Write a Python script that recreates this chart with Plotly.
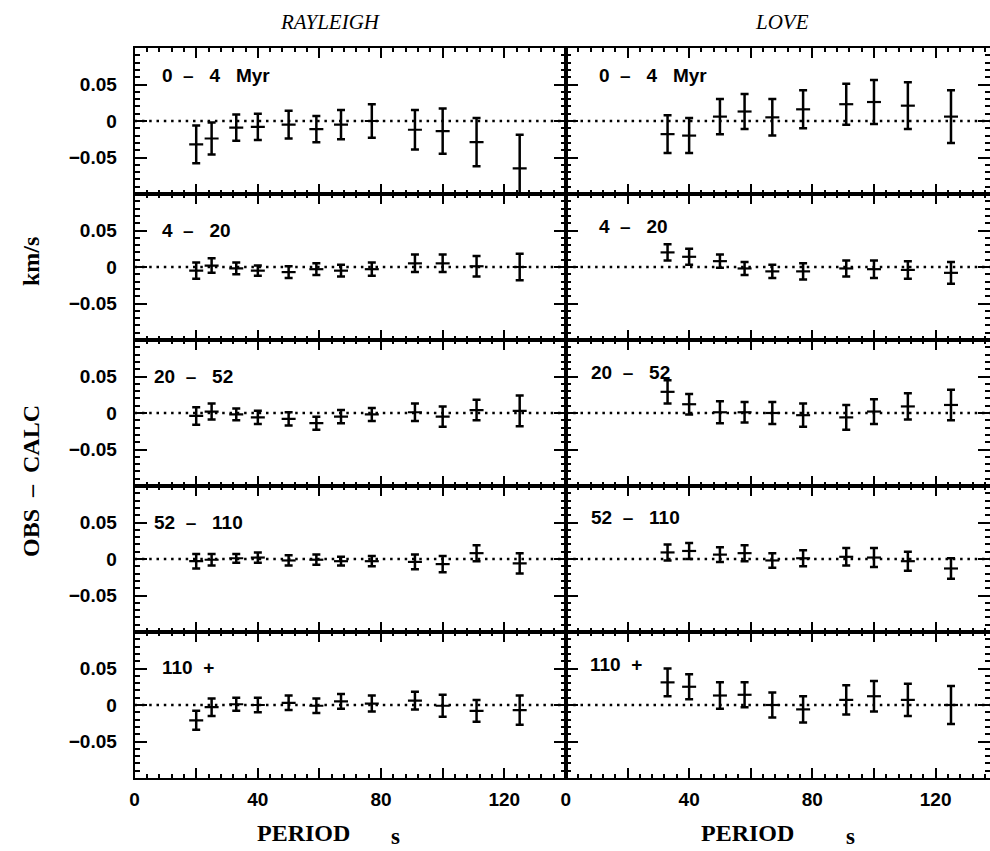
import plotly.graph_objects as go

W, H = 990, 851

# ---------------------------------------------------------------- data
NB = "\u00a0"
bin_labels = [f"0{NB*2}–{NB*3}4{NB*3}Myr", f"4{NB*2}–{NB*3}20",
              f"20{NB*2}–{NB*3}52", f"52{NB*2}–{NB*3}110", f"110{NB*2}+"]

ray_period = [20, 25, 33, 40, 50, 59, 67, 77, 91, 100, 111, 125]
love_period = [33, 40, 50, 58, 67, 77, 91, 100, 111, 125]

# Rayleigh residuals (km/s) and one-sigma errors per seafloor age bin
ray_0_4 = [-0.032, -0.024, -0.009, -0.008, -0.005, -0.011, -0.005, 0.000, -0.012, -0.014, -0.029, -0.065]
ray_0_4_err = [0.026, 0.022, 0.018, 0.018, 0.019, 0.018, 0.020, 0.023, 0.027, 0.031, 0.033, 0.046]
ray_4_20 = [-0.005, 0.002, -0.002, -0.005, -0.007, -0.003, -0.005, -0.003, 0.005, 0.005, 0.001, 0.000]
ray_4_20_err = [0.011, 0.010, 0.008, 0.007, 0.008, 0.008, 0.008, 0.009, 0.012, 0.012, 0.014, 0.018]
ray_20_52 = [-0.004, 0.002, -0.002, -0.006, -0.008, -0.014, -0.005, -0.002, 0.001, -0.005, 0.004, 0.003]
ray_20_52_err = [0.012, 0.011, 0.008, 0.009, 0.009, 0.009, 0.009, 0.009, 0.012, 0.014, 0.014, 0.021]
ray_52_110 = [-0.003, -0.001, 0.001, 0.002, -0.002, -0.001, -0.003, -0.003, -0.004, -0.007, 0.008, -0.006]
ray_52_110_err = [0.010, 0.008, 0.006, 0.007, 0.007, 0.007, 0.006, 0.007, 0.010, 0.011, 0.011, 0.014]
ray_110 = [-0.021, -0.003, 0.001, 0.000, 0.003, -0.001, 0.005, 0.002, 0.006, -0.001, -0.008, -0.007]
ray_110_err = [0.013, 0.012, 0.009, 0.010, 0.010, 0.010, 0.010, 0.011, 0.012, 0.015, 0.015, 0.020]

# Love residuals (km/s) and one-sigma errors per seafloor age bin
love_0_4 = [-0.018, -0.020, 0.006, 0.013, 0.005, 0.016, 0.023, 0.026, 0.021, 0.006]
love_0_4_err = [0.026, 0.024, 0.024, 0.024, 0.025, 0.026, 0.028, 0.030, 0.032, 0.036]
love_4_20 = [0.020, 0.014, 0.008, -0.002, -0.006, -0.006, -0.002, -0.003, -0.004, -0.008]
love_4_20_err = [0.011, 0.011, 0.009, 0.009, 0.009, 0.011, 0.011, 0.012, 0.012, 0.015]
love_20_52 = [0.029, 0.012, 0.001, 0.001, 0.000, -0.003, -0.006, 0.002, 0.009, 0.011]
love_20_52_err = [0.016, 0.014, 0.015, 0.014, 0.015, 0.016, 0.017, 0.017, 0.018, 0.021]
love_52_110 = [0.009, 0.011, 0.006, 0.008, -0.002, 0.001, 0.003, 0.002, -0.003, -0.013]
love_52_110_err = [0.011, 0.011, 0.010, 0.011, 0.010, 0.011, 0.012, 0.013, 0.013, 0.014]
love_110 = [0.031, 0.025, 0.013, 0.014, 0.000, -0.006, 0.007, 0.012, 0.007, 0.000]
love_110_err = [0.019, 0.017, 0.018, 0.017, 0.017, 0.018, 0.020, 0.021, 0.022, 0.026]

# hide the labels of the in-between major ticks
x_label_alias = {"20": " ", "60": " ", "100": " ", "140": " "}
y_label_alias = {"0.1": " ", "\u22120.1": " ", "-0.1": " "}

ray_rows = [(ray_0_4, ray_0_4_err), (ray_4_20, ray_4_20_err), (ray_20_52, ray_20_52_err),
            (ray_52_110, ray_52_110_err), (ray_110, ray_110_err)]
love_rows = [(love_0_4, love_0_4_err), (love_4_20, love_4_20_err), (love_20_52, love_20_52_err),
             (love_52_110, love_52_110_err), (love_110, love_110_err)]

# ---------------------------------------------------------------- layout geometry (pixels)
left_x0, mid_x, right_x1 = 134.6, 565.9, 990.0
px_per_s = (mid_x - left_x0) / 140.0
right_xmax = (right_x1 - mid_x) / px_per_s
top_y, row_h = 48.0, 146.0


def px_x(p):
    return p / W


def px_y(p):
    return 1 - p / H


# label placement inside each panel: (x in s, y in km/s) for left and right column
label_pos_left = [(8.2, 0.063), (8.2, 0.050), (5.6, 0.050), (5.6, 0.050), (8.2, 0.051)]
label_pos_right = [(10.1, 0.063), (10.1, 0.056), (7.5, 0.056), (7.5, 0.057), (7.2, 0.056)]

axis_common = dict(showline=True, linecolor="black", linewidth=2, mirror="allticks",
                   ticks="inside", tickwidth=2.2, tickcolor="black", automargin=False,
                   showgrid=False, zeroline=False, fixedrange=True,
                   tickfont=dict(family="Liberation Sans", size=19, color="black", weight="bold"))

fig = go.Figure()
annotations = []
layout_axes = {}

for row in range(5):
    y_top = top_y + row * row_h
    y_dom = [px_y(y_top + row_h), px_y(y_top)]
    for col in range(2):
        n = row * 2 + col + 1
        xs = ray_period if col == 0 else love_period
        vals, errs = (ray_rows if col == 0 else love_rows)[row]
        xmax = 140.0 if col == 0 else right_xmax
        x_dom = [px_x(left_x0), px_x(mid_x)] if col == 0 else [px_x(mid_x), 1.0]
        xname = "x" if n == 1 else f"x{n}"
        yname = "y" if n == 1 else f"y{n}"

        # dotted zero reference line
        fig.add_trace(go.Scatter(x=[0, xmax], y=[0, 0], mode="lines", xaxis=xname, yaxis=yname,
                                 line=dict(color="black", width=2.5, dash="2.5px,4.8px"),
                                 hoverinfo="skip", showlegend=False))
        # residuals with error bars
        fig.add_trace(go.Scatter(x=xs, y=vals, mode="markers", xaxis=xname, yaxis=yname,
                                 marker=dict(symbol="line-ew", size=10, color="black",
                                             line=dict(color="black", width=2.2)),
                                 error_y=dict(type="data", array=errs, visible=True,
                                              color="black", thickness=2.5, width=4),
                                 showlegend=False))

        layout_axes[f"xaxis{n}"] = dict(
            axis_common, domain=x_dom, range=[0, xmax], anchor=yname,
            tickmode="linear", tick0=0, dtick=20, ticklen=10, labelalias=x_label_alias,
            showticklabels=(row == 4), ticklabelstandoff=3,
            minor=dict(tickmode="linear", tick0=0, dtick=4, ticks="inside", ticklen=4,
                       tickwidth=1.8, tickcolor="black", showgrid=False))
        layout_axes[f"yaxis{n}"] = dict(
            axis_common, domain=y_dom, range=[-0.1, 0.1], anchor=xname,
            tickmode="linear", tick0=0, dtick=0.05, ticklen=12, labelalias=y_label_alias,
            showticklabels=(col == 0), ticklabelstandoff=12,
            minor=dict(tickmode="linear", tick0=0, dtick=0.01, ticks="inside", ticklen=5,
                       tickwidth=1.8, tickcolor="black", showgrid=False))

        lx, ly = (label_pos_left if col == 0 else label_pos_right)[row]
        annotations.append(dict(text=bin_labels[row], x=lx, y=ly, xref=xname, yref=yname,
                                xanchor="left", yanchor="middle", showarrow=False,
                                font=dict(family="Liberation Sans", size=19, color="black",
                                          weight="bold")))

serif = "Liberation Serif"


def paper_text(text, x, y, size, bold=False, angle=0):
    annotations.append(dict(text=text, x=px_x(x), y=px_y(y), xref="paper", yref="paper",
                            xanchor="center", yanchor="middle", textangle=angle,
                            showarrow=False,
                            font=dict(family=serif, size=size, color="black",
                                      weight="bold" if bold else "normal")))


# column titles
paper_text("<i>RAYLEIGH</i>", 330, 22, 21)
paper_text("<i>LOVE</i>", 782, 22, 21)
# x-axis titles
for cx, sx in [(303, 395), (747, 850)]:
    paper_text("PERIOD", cx, 833, 24, bold=True)
    paper_text("s", sx, 836, 23, bold=True)
# y-axis title
paper_text(f"OBS{NB*2}–{NB*2}CALC", 31, 481, 24, bold=True, angle=-90)
paper_text("km/s", 31, 262, 24, bold=True, angle=-90)

fig.update_layout(width=W, height=H,
                  margin=dict(l=0, r=0, t=0, b=0, pad=0, autoexpand=False),
                  paper_bgcolor="white", plot_bgcolor="white",
                  annotations=annotations, showlegend=False, **layout_axes)

fig.write_html("out.html")
